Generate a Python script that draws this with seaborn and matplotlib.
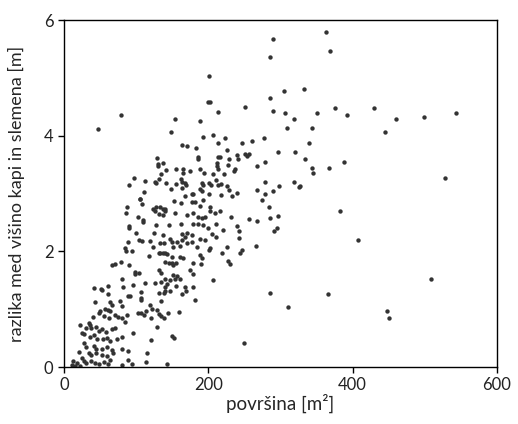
import matplotlib
matplotlib.use("Agg")
import matplotlib.pyplot as plt
import pandas as pd
import seaborn as sns

sns.set_theme(style="ticks")
plt.rcParams['font.family'] = ['Lato', 'DejaVu Sans']

# površina [m2] / razlika med višino kapi in slemena [m]
povrsina = [
    # outliers, upper region
    289, 286, 201, 305, 285, 199, 202, 214, 251, 289, 306, 154, 188, 319, 309,
    363, 369, 332, 351, 375, 392, 430, 460, 499, 543, 445, 344, 340, 334, 343,
    345, 367, 388, 528, 327,
    382, 407, 508, 366, 448, 451, 286, 310, 249,
    79, 47, 97, 90, 105, 87,
    # x 216-327, y 2.7-4.1
    223, 277, 247, 260, 226, 216, 229, 239, 241, 251, 253, 257, 296, 320, 227,
    268, 279, 237, 236, 222, 218, 226, 228, 218, 239, 233, 279, 268, 279, 289,
    298, 319, 325, 274, 284,
    # x 216-327, y 1.3-2.7
    216, 231, 256, 267, 286, 296, 291, 295, 239, 243, 220, 243, 266, 226, 219,
    247, 244, 227, 230,
    # x 105-216, y 2.7-4.1
    148, 193, 207, 164, 170, 183, 213, 185, 185, 214, 129, 130, 130, 137, 141,
    155, 165, 174, 165, 188, 194, 212, 212, 213, 206, 135, 132, 112, 126, 128,
    141, 155, 162, 163, 167, 169, 191, 193, 201, 203, 211, 214, 148, 164, 188,
    191, 111, 167, 177, 179, 201, 105, 108, 153, 162, 177, 182, 192, 188, 202,
    123, 127, 133, 137, 140,
    # x 105-216, y 1.3-2.7
    110, 109, 126, 131, 137, 140, 154, 170, 179, 186, 191, 195, 202, 209, 211,
    128, 145, 162, 179, 186, 193, 200, 124, 137, 164, 171, 177, 168, 205, 211,
    195, 188, 108, 119, 133, 138, 147, 149, 156, 163, 170, 177, 151, 161, 184,
    123, 202, 131, 133, 137, 140, 143, 118, 149, 161, 165, 188, 191, 201, 140,
    145, 149, 151, 155, 179, 190, 175, 179, 132, 135, 151, 156, 161, 154, 147,
    140, 135, 142, 126, 112, 140, 155, 168, 179, 207,
    # x 105-216, y 0-1.3
    107, 107, 107, 131, 138, 140, 147, 163, 169, 135, 182, 119, 122, 114, 107,
    111, 129, 132, 134, 138, 120, 144, 160, 129, 150, 152, 121, 115, 114, 142,
    # x 0-105, y 1.3-2.7
    86, 102, 90, 90, 100, 104, 89, 85, 86, 94, 66, 71, 79, 90, 98,
    98, 104, 81, 95, 82, 61, 41, 51,
    # x 0-105, y 0-1.3
    52, 61, 88, 91, 43, 64, 78, 80, 66, 57, 61, 64, 50, 103, 40,
    48, 55, 63, 71, 75, 81, 87, 85, 22, 34, 36, 38, 31, 44, 48,
    52, 58, 66, 71, 80, 95, 25, 28, 36, 42, 46, 54, 59, 64, 73,
    27, 31, 41, 45, 52, 59, 66, 80, 89, 21, 34, 38, 45, 52, 59,
    68, 13, 18, 25, 28, 31, 38, 43, 48, 55, 61, 64, 80, 89, 94,
    11, 15, 22,
]
razlika = [
    5.68, 5.36, 5.04, 4.77, 4.65, 4.58, 4.59, 4.41, 4.49, 4.42, 4.40, 4.28, 4.25, 4.28, 4.14,
    5.80, 5.46, 4.80, 4.40, 4.47, 4.36, 4.47, 4.29, 4.32, 4.39, 4.07, 4.13, 3.87, 3.59, 3.44,
    3.36, 3.44, 3.54, 3.26, 3.13,
    2.69, 2.19, 1.52, 1.27, 0.97, 0.85, 1.28, 1.04, 0.42,
    4.36, 4.12, 3.27, 3.15, 2.90, 2.77,
    3.96, 3.96, 3.87, 3.90, 3.76, 3.64, 3.60, 3.67, 3.60, 3.69, 3.65, 3.68, 3.72, 3.72, 3.49,
    3.48, 3.54, 3.42, 3.39, 3.34, 3.16, 3.13, 3.06, 2.98, 3.01, 2.96, 3.20, 3.06, 3.00, 3.04,
    3.13, 3.20, 3.12, 2.89, 2.76,
    2.70, 2.59, 2.56, 2.53, 2.58, 2.61, 2.36, 2.41, 2.43, 2.35, 2.37, 2.23, 2.10, 2.07, 1.97,
    2.02, 1.97, 1.84, 1.78,
    4.07, 3.97, 4.02, 3.84, 3.83, 3.78, 3.87, 3.64, 3.60, 3.64, 3.61, 3.51, 3.48, 3.52, 3.41,
    3.42, 3.42, 3.39, 3.35, 3.42, 3.35, 3.52, 3.47, 3.42, 3.34, 3.33, 3.25, 3.22, 3.20, 3.18,
    3.18, 3.16, 3.25, 3.20, 3.18, 3.15, 3.18, 3.15, 3.19, 3.14, 3.23, 3.15, 3.07, 3.09, 3.07,
    3.05, 3.02, 2.96, 2.99, 3.00, 2.99, 2.91, 2.82, 2.87, 2.84, 2.86, 2.85, 2.88, 2.78, 2.77,
    2.73, 2.76, 2.76, 2.73, 2.73,
    2.55, 2.50, 2.69, 2.65, 2.63, 2.69, 2.67, 2.63, 2.66, 2.60, 2.57, 2.60, 2.70, 2.66, 2.48,
    2.46, 2.46, 2.48, 2.48, 2.47, 2.46, 2.40, 2.32, 2.28, 2.30, 2.32, 2.28, 2.25, 2.30, 2.25,
    2.20, 2.22, 2.18, 2.18, 2.15, 2.14, 2.21, 2.16, 2.17, 2.20, 2.14, 2.17, 2.08, 2.09, 2.08,
    2.08, 2.05, 1.98, 1.97, 1.97, 1.97, 1.95, 1.92, 1.91, 1.91, 1.88, 1.94, 1.88, 2.03, 1.82,
    1.79, 1.80, 1.76, 1.79, 1.79, 1.78, 1.68, 1.61, 1.67, 1.63, 1.59, 1.57, 1.53, 1.52, 1.50,
    1.53, 1.47, 1.43, 1.45, 1.45, 1.38, 1.40, 1.38, 1.38, 1.50,
    1.30, 1.19, 1.16, 1.28, 1.28, 1.31, 1.32, 1.26, 1.32, 1.15, 1.16, 1.07, 1.00, 0.96, 0.94,
    0.90, 0.99, 0.92, 0.88, 0.85, 0.84, 0.93, 0.95, 0.70, 0.54, 0.51, 0.47, 0.24, 0.09, 0.05,
    2.67, 2.59, 2.43, 2.40, 2.31, 2.20, 2.17, 2.05, 2.01, 2.01, 1.76, 1.78, 1.82, 1.76, 1.64,
    1.60, 1.63, 1.53, 1.42, 1.39, 1.40, 1.37, 1.35,
    1.33, 1.26, 1.23, 1.22, 1.12, 1.13, 1.15, 1.05, 1.07, 1.01, 0.99, 0.97, 0.96, 0.94, 0.86,
    0.93, 0.88, 0.84, 0.90, 0.87, 0.84, 0.90, 0.78, 0.73, 0.76, 0.73, 0.67, 0.67, 0.70, 0.63,
    0.65, 0.61, 0.65, 0.67, 0.52, 0.59, 0.59, 0.57, 0.52, 0.55, 0.49, 0.48, 0.51, 0.45, 0.48,
    0.41, 0.35, 0.36, 0.32, 0.31, 0.34, 0.29, 0.32, 0.28, 0.26, 0.24, 0.21, 0.24, 0.21, 0.19,
    0.24, 0.11, 0.07, 0.15, 0.11, 0.07, 0.11, 0.07, 0.05, 0.09, 0.06, 0.12, 0.03, 0.12, 0.05,
    0.03, 0.02, 0.02,
]

df = pd.DataFrame({"povrsina": povrsina, "razlika": razlika})

fig = plt.figure(figsize=(5.18, 4.24), dpi=100)
ax = fig.add_axes([0.1236, 0.1344, 0.8359, 0.8184])
sns.scatterplot(x="povrsina", y="razlika", data=df, ax=ax, color="#333333",
                s=10, linewidth=0, legend=False)

ax.set_xlim(0, 600)
ax.set_ylim(0, 6)
ax.set_xticks([0, 200, 400, 600])
ax.set_yticks([0, 2, 4, 6])
ax.set_xlabel("površina [m²]", fontsize=13.5, labelpad=0)
ax.set_ylabel("razlika med višino kapi in slemena [m]", fontsize=13, labelpad=14)
ax.tick_params(axis="both", direction="out", length=4, width=1, labelsize=12,
               color="black", labelcolor="#222222")
for sp in ax.spines.values():
    sp.set_color("black")
    sp.set_linewidth(1)

fig.savefig("out.png", dpi=100)
